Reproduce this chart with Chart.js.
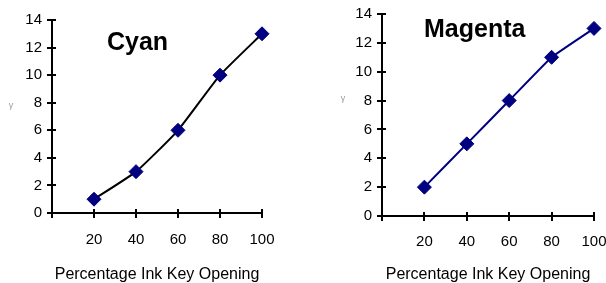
<!DOCTYPE html>
<html><head><meta charset="utf-8">
<script src="https://cdn.jsdelivr.net/npm/chart.js@4"></script>
<style>
html,body{margin:0;padding:0;background:#fff;overflow:hidden;width:606px;height:283px;}
.wrap{position:absolute;top:0;height:283px;}
</style></head>
<body>
<div class="wrap" style="left:0;width:303px"><canvas id="c1" width="303" height="283"></canvas></div>
<div class="wrap" style="left:303px;width:330px"><canvas id="c2" width="330" height="283"></canvas></div>
<script>
const inkKeyOpening = [20, 40, 60, 80, 100];
const cyanValues = [1, 3, 6, 10, 13];
const magentaValues = [2, 5, 8, 11, 13];
const xTickLabels = ['', '20', '40', '60', '80', '100'];
const yTickLabels = ['0', '2', '4', '6', '8', '10', '12', '14'];
const chartTitles = ['Cyan', 'Magenta'];
const xAxisTitle = 'Percentage Ink Key Opening';
const yAxisTitle = 'γ';

const FONT = 'Arial, "Liberation Sans", sans-serif';

const decor = {
  id: 'decor',
  afterDraw(chart, args, o) {
    const ctx = chart.ctx;
    const xs = chart.scales.x, ys = chart.scales.y;
    const ca = chart.chartArea;
    ctx.save();
    ctx.strokeStyle = '#000';
    ctx.lineWidth = 2;
    ctx.beginPath();
    xs.ticks.forEach(t => {
      const px = Math.round(xs.getPixelForValue(t.value));
      ctx.moveTo(px, ca.bottom); ctx.lineTo(px, ca.bottom - 4);
    });
    ys.ticks.forEach(t => {
      const py = Math.round(ys.getPixelForValue(t.value));
      ctx.moveTo(ca.left, py); ctx.lineTo(ca.left + 4, py);
    });
    ctx.stroke();
    ctx.fillStyle = '#000';
    ctx.font = 'bold 25px ' + FONT;
    ctx.textAlign = 'left';
    ctx.textBaseline = 'alphabetic';
    ctx.fillText(o.title, o.tx, o.ty);
    ctx.fillStyle = '#9a9a9a';
    ctx.font = '9px ' + FONT;
    ctx.textAlign = 'center';
    ctx.textBaseline = 'middle';
    ctx.fillText(yAxisTitle, o.gx, o.gy);
    ctx.restore();
  }
};

function makeChart(id, values, lineColor, cfg) {
  return new Chart(document.getElementById(id), {
    type: 'line',
    data: {
      datasets: [{
        data: inkKeyOpening.map((x, i) => ({x: x, y: values[i]})),
        borderColor: lineColor,
        borderWidth: 2,
        tension: cfg.tension,
        clip: false,
        pointStyle: 'rectRot',
        pointRadius: 7,
        pointBackgroundColor: '#000080',
        pointBorderColor: '#000080',
        pointBorderWidth: 1
      }]
    },
    options: {
      responsive: false,
      animation: false,
      events: [],
      layout: {padding: {top: cfg.top, right: cfg.right, left: 0, bottom: 0}},
      plugins: {legend: {display: false}, tooltip: {enabled: false}, decor: cfg.decor},
      scales: {
        x: {
          type: 'linear', min: 0, max: 100,
          afterFit: s => { s.height = cfg.xh; },
          ticks: {stepSize: 20, color: '#000', font: {family: FONT, size: 15}, padding: cfg.xpad,
                  maxRotation: 0, autoSkip: false,
                  callback: (v) => xTickLabels[Math.round(v / 20)]},
          grid: {display: true, drawOnChartArea: false, drawTicks: true, tickLength: 5, color: '#000', lineWidth: 2},
          border: {color: '#000', width: 2},
          title: {display: true, text: xAxisTitle, color: '#000', font: {family: FONT, size: 16, lineHeight: 1.0}, padding: {top: 0, bottom: 0}}
        },
        y: {
          type: 'linear', min: 0, max: 14,
          afterFit: s => { s.width = cfg.yw; },
          ticks: {stepSize: 2, color: '#000', font: {family: FONT, size: 15}, padding: 5,
                  callback: (v) => yTickLabels[Math.round(v / 2)]},
          grid: {display: true, drawOnChartArea: false, drawTicks: true, tickLength: 5, color: '#000', lineWidth: 2},
          border: {color: '#000', width: 2}
        }
      }
    },
    plugins: [decor]
  });
}

makeChart('c1', cyanValues, '#000000', {
  top: 20, right: 41, xh: 70, yw: 52, xpad: 13, tension: 0.15,
  decor: {title: chartTitles[0], tx: 107, ty: 50, gx: 11, gy: 106}
});
makeChart('c2', magentaValues, '#000080', {
  top: 10, right: 39, xh: 67, yw: 79, xpad: 12, tension: 0.08,
  decor: {title: chartTitles[1], tx: 121, ty: 37, gx: 40, gy: 99}
});
</script>
</body></html>
